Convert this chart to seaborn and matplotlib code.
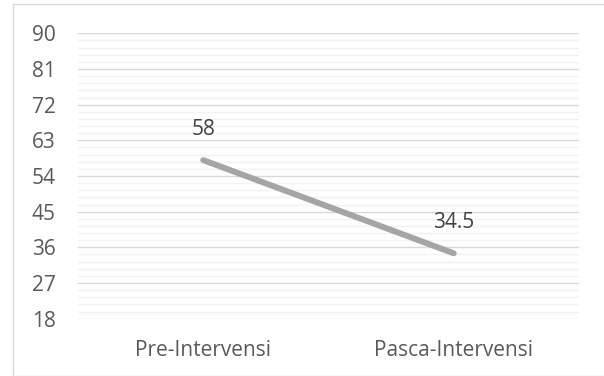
import matplotlib
matplotlib.use("Agg")
import matplotlib.pyplot as plt
import seaborn as sns
import pandas as pd
import numpy as np
from matplotlib.patches import Rectangle

categories = ["Pre-Intervensi", "Pasca-Intervensi"]
values = [58, 34.5]
value_labels = ["58", "34.5"]
yticks = [18, 27, 36, 45, 54, 63, 72, 81, 90]

sns.set_theme(style="white")
plt.rcParams['font.family'] = ['Open Sans', 'DejaVu Sans']

df = pd.DataFrame({"cat": categories, "val": values})

fig = plt.figure(figsize=(6.04, 3.76), dpi=100)
ax = fig.add_axes([78/604, 1-318.7/376, (579-78)/604, (318.7-33.3)/376])

# figure border
fig.patches.append(Rectangle((13/604, 0), 1, 1-4/376, transform=fig.transFigure,
                             fill=False, edgecolor="#D9D9D9", linewidth=1.0, zorder=0))

# minor gridlines
for y in np.arange(18, 90, 1.8):
    if not np.isclose((y - 18) % 9, 0) and not np.isclose((y - 18) % 9, 9):
        ax.axhline(y, color="#F2F2F2", linewidth=1.0, zorder=0)
for y in yticks:
    ax.axhline(y, color="#D9D9D9", linewidth=1.0, zorder=1)

sns.lineplot(data=df, x="cat", y="val", ax=ax, color="#A5A5A5", linewidth=4.3,
             sort=False, zorder=3, solid_capstyle="round")

ax.set_ylim(18, 90)
ax.set_xlim(-0.5, 1.5)
ax.set_yticks(yticks)
ax.set_yticklabels([str(t) for t in yticks])
ax.set_xlabel("")
ax.set_ylabel("")
for s in ax.spines.values():
    s.set_visible(False)
ax.tick_params(axis="both", length=0, colors="#595959", labelsize=15)
ax.tick_params(axis="y", pad=16)
ax.tick_params(axis="x", pad=15)

for i, (v, lab) in enumerate(zip(values, value_labels)):
    ax.annotate(lab, (i, v), xytext=(0, 22), textcoords="offset points",
                ha="center", va="center", fontsize=15, color="#404040")

fig.savefig("out.png", dpi=100)
